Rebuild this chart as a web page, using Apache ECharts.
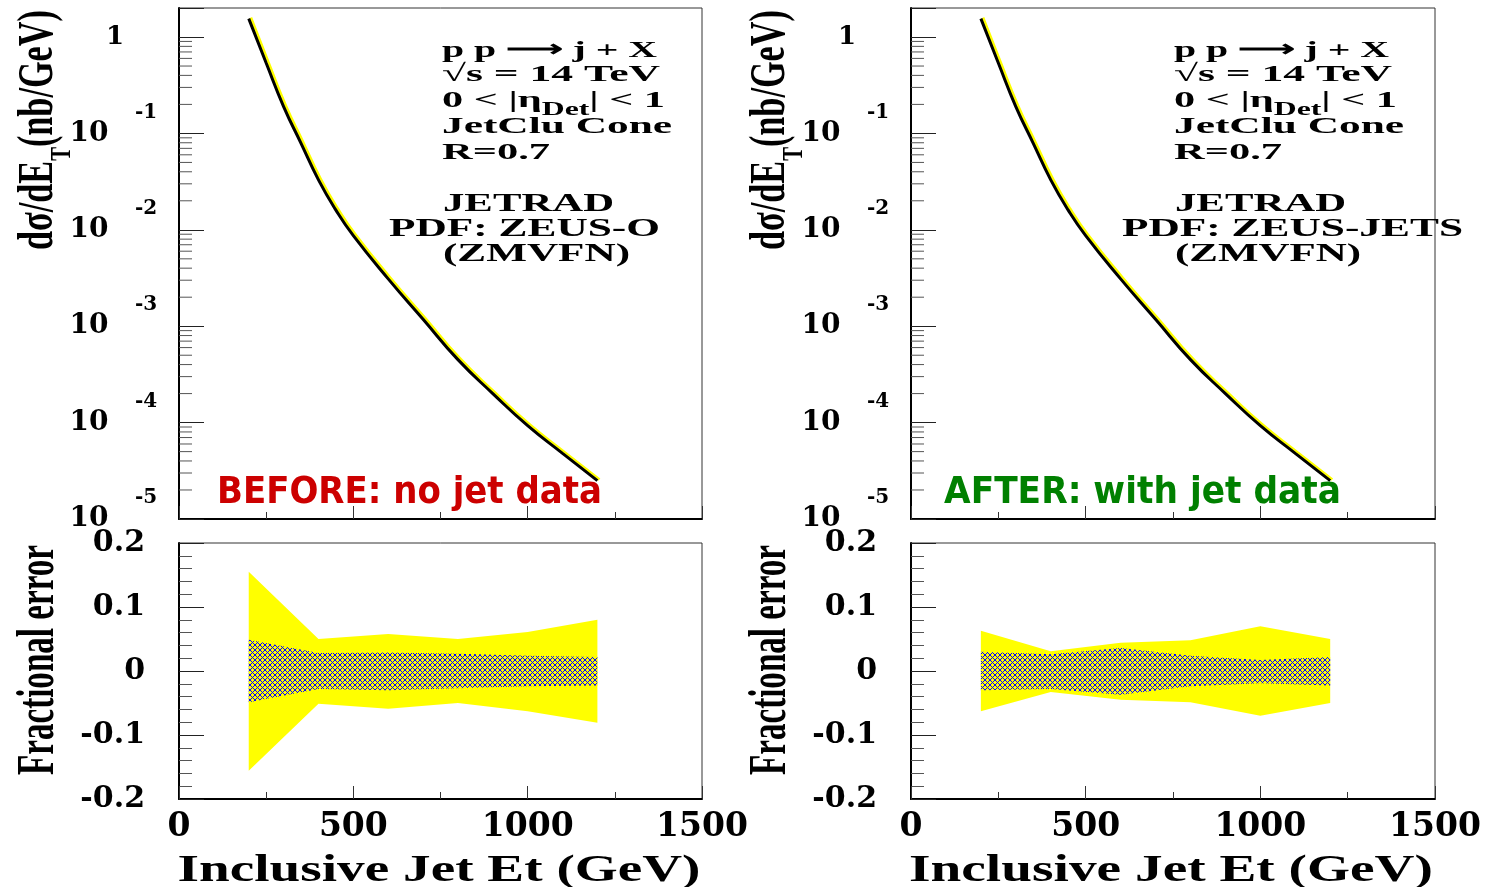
<!DOCTYPE html>
<html><head><meta charset="utf-8">
<script src="https://cdn.jsdelivr.net/npm/echarts@6/dist/echarts.min.js"></script>
<style>html,body{margin:0;padding:0;background:#fff}#c{width:1488px;height:887px}</style>
</head><body><div id="c"></div><script>
// ---------------- data ----------------
const energyGrid  = [200, 250, 300, 350, 400, 450, 500, 600, 700, 800, 900, 1000, 1100, 1200];
const sigmaBefore = [1.55, 0.537, 0.19, 0.0790, 0.0330, 0.0160, 0.0087, 0.0031, 0.00118, 4.5e-4, 2.0e-4, 9.3e-5, 4.8e-5, 2.5e-5];
const sigmaAfter  = [1.55, 0.537, 0.19, 0.0790, 0.0330, 0.0160, 0.0087, 0.0031, 0.00118, 4.5e-4, 2.0e-4, 9.3e-5, 4.8e-5, 2.5e-5];

const bandEnergy      = [200, 400, 600, 800, 1000, 1200];
const beforeOuterUp   = [0.155, 0.050, 0.058, 0.050, 0.061, 0.080];
const beforeOuterDown = [-0.156, -0.051, -0.059, -0.050, -0.063, -0.081];
const beforeInnerUp   = [0.049, 0.028, 0.029, 0.027, 0.024, 0.022];
const beforeInnerDown = [-0.049, -0.028, -0.030, -0.027, -0.024, -0.0225];
const afterOuterUp    = [0.063, 0.031, 0.044, 0.048, 0.070, 0.050];
const afterOuterDown  = [-0.063, -0.033, -0.045, -0.049, -0.070, -0.050];
const afterInnerUp    = [0.030, 0.026, 0.036, 0.024, 0.017, 0.022];
const afterInnerDown  = [-0.030, -0.028, -0.037, -0.024, -0.019, -0.0225];

const xTickLabels    = ['0', '500', '1000', '1500'];
const fracTickLabels = ['-0.2', '-0.1', '0', '0.1', '0.2'];
const logMinorTicks = [];
for (let k = -5; k <= 0; k++) for (let m = 2; m <= 9; m++) { const v = m * Math.pow(10, k); if (v < 2) logMinorTicks.push(v); }

// ---------------- helpers ----------------
const SERIF = '"Liberation Serif", "Times New Roman", serif';
const TICKF = '"DejaVu Serif", serif';
const mctx = document.createElement('canvas').getContext('2d');
function w(str, font) { mctx.font = font; return mctx.measureText(str).width; }

const pc = document.createElement('canvas'); pc.width = 5; pc.height = 5;
(function(){ const c = pc.getContext('2d'); c.fillStyle = '#ffff00'; c.fillRect(0,0,5,5);
  c.fillStyle = '#0000ff';
  for (let i = 0; i < 5; i++) { c.fillRect(i, i, 1, 1); c.fillRect(4 - i, i, 1, 1); } })();
const hatch = { image: pc, repeat: 'repeat' };

function isPow10(v) { const l = Math.log10(v); return Math.abs(l - Math.round(l)) < 1e-6; }

function xAxis(gi, showLabel) {
  return { type: 'value', gridIndex: gi, min: 0, max: 1500, interval: 500,
    axisLine: { show: true, onZero: false, lineStyle: { color: '#000', width: 2 } },
    axisTick: { show: true, inside: true, length: 13, lineStyle: { color: '#333' } },
    minorTick: { show: true, splitNumber: 2, length: 7, lineStyle: { color: '#333' } },
    splitLine: { show: false },
    axisLabel: { show: showLabel, margin: 12, fontFamily: TICKF, fontWeight: 'bold', fontSize: 33, color: '#000',
      formatter: v => xTickLabels[Math.round(v / 500)] } };
}
function logAxisMain(gi) {
  return { type: 'log', logBase: 10, gridIndex: gi, position: 'left', min: 1e-5, max: 2,
    axisLine: { show: true, onZero: false, lineStyle: { color: '#000', width: 2 } },
    axisTick: { show: true, inside: true, length: 25, lineStyle: { color: '#222' } },
    splitLine: { show: false },
    axisLabel: { margin: 64, align: 'center',
      formatter: v => !isPow10(v) ? '' : (Math.round(Math.log10(v)) === 0 ? '{one|1}' : '{ten|10}'),
      rich: { one: { fontFamily: TICKF, fontWeight: 'bold', fontSize: 26, color: '#000' },
              ten: { fontFamily: TICKF, fontWeight: 'bold', fontSize: 28, color: '#000', padding: [0, 52, 0, 0] } } } };
}
function logAxisExp(gi) {
  return { type: 'log', logBase: 10, gridIndex: gi, position: 'left', min: 1e-5, max: 2,
    axisLine: { show: false }, axisTick: { show: false }, splitLine: { show: false },
    axisLabel: { margin: 33, align: 'center',
      formatter: v => { if (!isPow10(v)) return ''; const e = Math.round(Math.log10(v)); return e === 0 ? '' : '{e|' + e + '}'; },
      rich: { e: { fontFamily: TICKF, fontWeight: 'bold', fontSize: 20, color: '#000', padding: [0, 0, 42, 0] } } } };
}
function fracAxis(gi) {
  return { type: 'value', gridIndex: gi, position: 'left', min: -0.2, max: 0.2, interval: 0.1,
    axisLine: { show: true, onZero: false, lineStyle: { color: '#000', width: 2 } },
    axisTick: { show: true, inside: true, length: 25, lineStyle: { color: '#222' } },
    minorTick: { show: true, splitNumber: 5, length: 13, lineStyle: { color: '#555' } },
    splitLine: { show: false },
    axisLabel: { margin: 34, fontFamily: TICKF, fontWeight: 'bold', fontSize: 30, color: '#000',
      formatter: v => fracTickLabels[Math.round((v + 0.2) / 0.1)] } };
}
function lineSeries(xi, yi, vals) {
  return { type: 'line', xAxisIndex: xi, yAxisIndex: yi, z: 10, silent: true,
    data: energyGrid.map((e, i) => [e, vals[i]]), showSymbol: false, smooth: 0.5,
    lineStyle: { color: '#000', width: 3, shadowColor: '#ffff00', shadowOffsetX: 2, shadowOffsetY: -1, shadowBlur: 0 } };
}
function minorTickSeries(xi, yi) {
  return { type: 'custom', xAxisIndex: xi, yAxisIndex: yi, z: 6, silent: true,
    data: logMinorTicks.map(v => [0, v]), encode: { x: 0, y: 1 },
    renderItem(p, api) { const c = api.coord([0, api.value(1)]);
      return { type: 'line', shape: { x1: c[0], y1: c[1], x2: c[0] + 13, y2: c[1] }, style: { stroke: '#555', lineWidth: 1 } }; } };
}
function bandSeries(xi, yi, ups, downs, fill, z) {
  return { type: 'custom', xAxisIndex: xi, yAxisIndex: yi, z: z, silent: true,
    data: bandEnergy.map((e, i) => [e, ups[i], downs[i]]), encode: { x: 0, y: [1, 2] },
    renderItem(params, api) {
      if (params.dataIndex !== 0) return null;
      const top = bandEnergy.map((e, i) => api.coord([e, ups[i]]));
      const bot = bandEnergy.map((e, i) => api.coord([e, downs[i]])).reverse();
      return { type: 'polygon', shape: { points: top.concat(bot) }, style: { fill: fill, stroke: null } };
    } };
}

// ---------------- text graphics ----------------
function txt(str, fontPx, family, x, y, targetW, color, weight) {
  const font = (weight || 'bold') + ' ' + fontPx + 'px ' + family;
  return { type: 'text', x: x, y: y, scaleX: targetW / w(str, font), silent: true,
    style: { text: str, font: font, fill: color || '#000', align: 'left', verticalAlign: 'middle' } };
}
function etaLine(x, y, targetW) {
  const mf = 'bold 24px ' + SERIF, sf = 'bold 18px ' + SERIF;
  const nat = w('0 < |η', mf) + w('Det', sf) + w('| < 1', mf);
  return { type: 'text', x: x, y: y, scaleX: targetW / nat, silent: true,
    style: { text: '{m|0 < |η}{s|Det}{m|| < 1}', align: 'left', verticalAlign: 'middle',
      rich: { m: { fontFamily: SERIF, fontWeight: 'bold', fontSize: 24, fill: '#000', padding: [0, 0, 7, 0], verticalAlign: 'bottom' },
              s: { fontFamily: SERIF, fontWeight: 'bold', fontSize: 18, fill: '#000', verticalAlign: 'bottom' } } } };
}
function yTitleTop(x, y, targetLen) {
  const mf = 'bold 50px ' + SERIF, sf = 'bold 30px ' + SERIF;
  const nat = w('dσ/dE', mf) + w('T', sf) + w('(nb/GeV)', mf);
  return { type: 'text', x: x, y: y, rotation: Math.PI / 2, scaleX: targetLen / nat, silent: true,
    style: { text: '{m|dσ/dE}{s|T}{m|(nb/GeV)}', align: 'center', verticalAlign: 'middle',
      rich: { m: { fontFamily: SERIF, fontWeight: 'bold', fontSize: 50, fill: '#000', padding: [0, 0, 13, 0], verticalAlign: 'bottom' },
              s: { fontFamily: SERIF, fontWeight: 'bold', fontSize: 30, fill: '#000', verticalAlign: 'bottom' } } } };
}
function yTitlePlain(str, x, y, targetLen) {
  const font = 'bold 52px ' + SERIF;
  return { type: 'text', x: x, y: y, rotation: Math.PI / 2, scaleX: targetLen / w(str, font), silent: true,
    style: { text: str, font: font, fill: '#000', align: 'center', verticalAlign: 'middle' } };
}
function centered(str, fontPx, family, cx, y, targetW, color) {
  const font = 'bold ' + fontPx + 'px ' + family;
  return { type: 'text', x: cx, y: y, scaleX: targetW / w(str, font), silent: true,
    style: { text: str, font: font, fill: color || '#000', align: 'center', verticalAlign: 'middle' } };
}

const graphics = [];
function annot(dx, pdf, pdfLeft, pdfW, jetW, zmW) {
  graphics.push(txt('p p ⟶ j + X', 24, SERIF, 442 + dx, 51, 215));
  graphics.push(txt('√s = 14 TeV', 24, SERIF, 442 + dx, 75, 218));
  graphics.push(etaLine(442 + dx, 104, 223));
  graphics.push(txt('JetClu Cone', 24, SERIF, 442 + dx, 127, 230));
  graphics.push(txt('R=0.7', 24, SERIF, 442 + dx, 153, 108));
  graphics.push(txt('JETRAD', 25, SERIF, 443 + dx, 205, jetW));
  graphics.push(txt(pdf, 25, SERIF, pdfLeft, 230, pdfW));
  graphics.push(txt('(ZMVFN)', 25, SERIF, 443 + dx, 255, zmW));
}
annot(0, 'PDF: ZEUS-O', 389, 271, 171, 187);
annot(732, 'PDF: ZEUS-JETS', 1122, 341, 171, 186);
graphics.push(txt('BEFORE: no jet data', 38, '"DejaVu Sans", sans-serif', 217, 493, 385, '#cc0000'));
graphics.push(txt('AFTER: with jet data', 38, '"DejaVu Sans", sans-serif', 944, 493, 397, '#008000'));
graphics.push(centered('Inclusive Jet Et (GeV)', 37, SERIF, 439, 871, 523));
graphics.push(centered('Inclusive Jet Et (GeV)', 37, SERIF, 1171, 871, 524));
graphics.push(yTitleTop(46, 130, 240));
graphics.push(yTitleTop(778, 130, 240));
graphics.push(yTitlePlain('Fractional error', 40, 660, 230));
graphics.push(yTitlePlain('Fractional error', 772, 660, 230));

// ---------------- chart ----------------
const gridStyle = { show: true, borderColor: '#333', borderWidth: 1, backgroundColor: 'transparent' };
const option = {
  animation: false,
  backgroundColor: '#fff',
  grid: [
    Object.assign({ left: 179, top: 8, width: 523, height: 511 }, gridStyle),
    Object.assign({ left: 179, top: 543, width: 523, height: 256 }, gridStyle),
    Object.assign({ left: 911, top: 8, width: 524, height: 511 }, gridStyle),
    Object.assign({ left: 911, top: 543, width: 524, height: 256 }, gridStyle)
  ],
  xAxis: [xAxis(0, false), xAxis(1, true), xAxis(2, false), xAxis(3, true)],
  yAxis: [logAxisMain(0), logAxisExp(0), fracAxis(1), logAxisMain(2), logAxisExp(2), fracAxis(3)],
  series: [
    minorTickSeries(0, 0),
    lineSeries(0, 0, sigmaBefore),
    bandSeries(1, 2, beforeOuterUp, beforeOuterDown, '#ffff00', 2),
    bandSeries(1, 2, beforeInnerUp, beforeInnerDown, hatch, 3),
    minorTickSeries(2, 3),
    lineSeries(2, 3, sigmaAfter),
    bandSeries(3, 5, afterOuterUp, afterOuterDown, '#ffff00', 2),
    bandSeries(3, 5, afterInnerUp, afterInnerDown, hatch, 3)
  ],
  graphic: graphics
};
const chart = echarts.init(document.getElementById('c'), null, { renderer: 'canvas' });
chart.setOption(option);
</script></body></html>
